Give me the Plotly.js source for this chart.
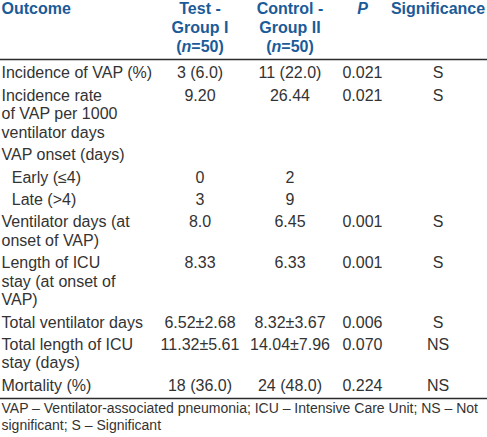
<!DOCTYPE html>
<html>
<head>
<meta charset="utf-8">
<script src="https://cdn.plot.ly/plotly-3.0.1.min.js"></script>
<style>html,body{margin:0;padding:0;background:#fff;}#chart{width:487px;height:437px;}</style>
</head>
<body>
<div id="chart"></div>
<script>
// ---- table content ----
var headers = ["Outcome", "Test -\nGroup I\n(<i>n</i>=50)", "Control -\nGroup II\n(<i>n</i>=50)", "<i>P</i>", "Significance"];
var outcomes = [
  "Incidence of VAP (%)",
  "Incidence rate\nof VAP per 1000\nventilator days",
  "VAP onset (days)",
  "\u00a0\u00a0\u200aEarly (\u22644)",
  "\u00a0\u00a0\u200aLate (>4)",
  "Ventilator days (at\nonset of VAP)",
  "Length of ICU\nstay (at onset of\nVAP)",
  "Total ventilator days",
  "Total length of ICU\nstay (days)",
  "Mortality (%)"
];
var testGroup = ["3 (6.0)", "9.20", "", "0", "3", "8.0", "8.33", "6.52\u00b12.68", "11.32\u00b15.61", "18 (36.0)"];
var controlGroup = ["11 (22.0)", "26.44", "", "2", "9", "6.45", "6.33", "8.32\u00b13.67", "14.04\u00b17.96", "24 (48.0)"];
var pValues = ["0.021", "0.021", "", "", "", "0.001", "0.001", "0.006", "0.070", "0.224"];
var significance = ["S", "S", "", "", "", "S", "S", "S", "NS", "NS"];
var footnoteLines = ["VAP \u2013 Ventilator-associated pneumonia; ICU \u2013 Intensive Care Unit; NS \u2013 Not", "significant; S \u2013 Significant"];

// ---- layout / style settings ----
var FONT = "Liberation Sans, Arial, sans-serif";
var HEAD_COLOR = "#1b5b98";
var BODY_COLOR = "#333333";
var colX = [1.5, 200, 290, 362.5, 438];
var colPos = ["middle right", "middle center", "middle center", "middle center", "middle center"];
var HEAD_TOP = 10.4, HEAD_LINE = 19;
var BODY_TOP = 74.4, BODY_LINE = 18.6, ROW_STEP = 22.3;
var RULES = [59.5, 398.5];
var FOOT_TOP = 409.5, FOOT_LINE = 17.4;

var columns = [outcomes, testGroup, controlGroup, pValues, significance];
function nLines(s) { return s === "" ? 1 : s.split("\n").length; }

// row start positions from line counts
var rowY = [];
var yCur = BODY_TOP;
for (var r = 0; r < outcomes.length; r++) {
  rowY.push(yCur);
  var maxL = 1;
  columns.forEach(function(c) { maxL = Math.max(maxL, nLines(c[r])); });
  yCur += (maxL - 1) * BODY_LINE + ROW_STEP;
}

var traces = [];
// header cells
headers.forEach(function(h, ci) {
  var xs = [], ys = [], ts = [];
  h.split("\n").forEach(function(line, li) {
    xs.push(colX[ci]); ys.push(HEAD_TOP + li * HEAD_LINE); ts.push(line);
  });
  traces.push({
    type: "scatter", mode: "text", x: xs, y: ys, text: ts,
    textposition: colPos[ci], hoverinfo: "skip", cliponaxis: false,
    textfont: {family: FONT, size: 16, color: HEAD_COLOR, weight: "bold"}
  });
});
// body cells
columns.forEach(function(col, ci) {
  var xs = [], ys = [], ts = [];
  col.forEach(function(cell, ri) {
    if (cell === "") return;
    cell.split("\n").forEach(function(line, li) {
      xs.push(colX[ci]); ys.push(rowY[ri] + li * BODY_LINE); ts.push(line);
    });
  });
  traces.push({
    type: "scatter", mode: "text", x: xs, y: ys, text: ts,
    textposition: colPos[ci], hoverinfo: "skip", cliponaxis: false,
    textfont: {family: FONT, size: 16, color: BODY_COLOR}
  });
});
// footnote
traces.push({
  type: "scatter", mode: "text",
  x: footnoteLines.map(function() { return colX[0]; }),
  y: footnoteLines.map(function(_, i) { return FOOT_TOP + i * FOOT_LINE; }),
  text: footnoteLines, textposition: "middle right", hoverinfo: "skip", cliponaxis: false,
  textfont: {family: FONT, size: 14, color: BODY_COLOR}
});

var layout = {
  width: 487, height: 437,
  margin: {l: 0, r: 0, t: 0, b: 0},
  paper_bgcolor: "#ffffff", plot_bgcolor: "#ffffff",
  showlegend: false, hovermode: false,
  xaxis: {range: [0, 487], visible: false, fixedrange: true},
  yaxis: {range: [437, 0], visible: false, fixedrange: true},
  shapes: RULES.map(function(yv) {
    return {type: "line", xref: "paper", yref: "y", x0: 0, x1: 1, y0: yv, y1: yv,
            line: {color: "#2b2b2b", width: 1.3}};
  })
};

Plotly.newPlot("chart", traces, layout, {displayModeBar: false, staticPlot: true});
</script>
</body>
</html>
